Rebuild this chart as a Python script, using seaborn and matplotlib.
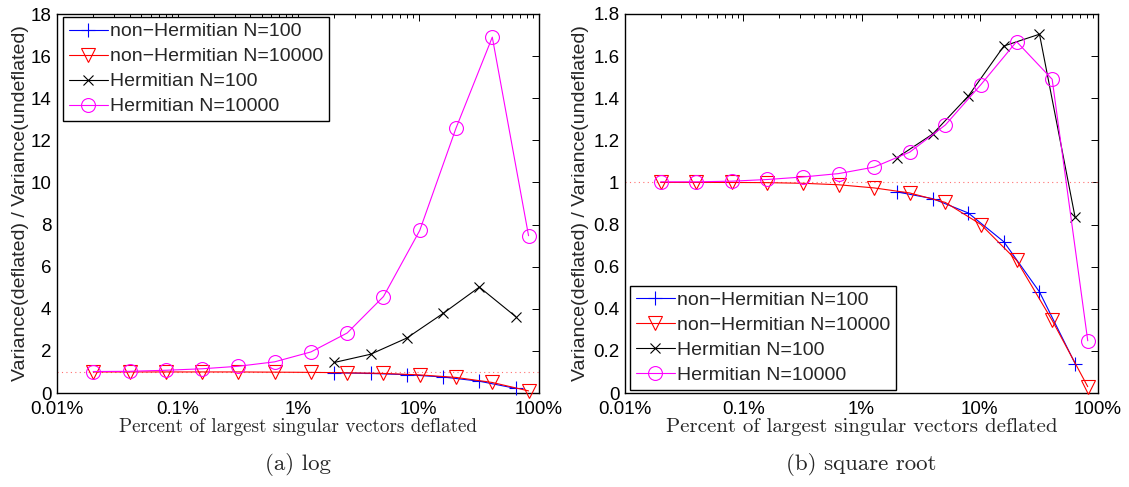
import matplotlib
matplotlib.use("Agg")
import matplotlib.pyplot as plt
from matplotlib.ticker import FixedLocator, FixedFormatter, LogLocator, NullFormatter, FormatStrFormatter
import seaborn as sns

# Percent of singular vectors deflated (k / N * 100)
x_n100 = [2, 4, 8, 16, 32, 64]
x_n10000 = [0.02, 0.04, 0.08, 0.16, 0.32, 0.64, 1.28, 2.56, 5.12, 10.24, 20.48, 40.96, 81.92]

# (a) log
log_nh100 = [0.96, 0.93, 0.87, 0.76, 0.56, 0.22]
log_nh10000 = [1.0, 1.0, 1.0, 1.0, 1.0, 0.99, 0.98, 0.96, 0.93, 0.86, 0.74, 0.50, 0.10]
log_h100 = [1.45, 1.84, 2.61, 3.78, 5.03, 3.63]
log_h10000 = [1.02, 1.03, 1.08, 1.15, 1.27, 1.48, 1.95, 2.85, 4.58, 7.72, 12.58, 16.9, 7.47]

# (b) square root
sqrt_nh100 = [0.955, 0.923, 0.855, 0.718, 0.48, 0.14]
sqrt_nh10000 = [1.0, 1.0, 1.0, 0.999, 0.996, 0.989, 0.974, 0.95, 0.905, 0.80, 0.63, 0.345, 0.03]
sqrt_h100 = [1.118, 1.23, 1.41, 1.648, 1.704, 0.835]
sqrt_h10000 = [1.003, 1.003, 1.006, 1.014, 1.026, 1.042, 1.073, 1.144, 1.273, 1.465, 1.669, 1.49, 0.248]

series_labels = ["non\u2212Hermitian N=100", "non\u2212Hermitian N=10000",
                 "Hermitian N=100", "Hermitian N=10000"]
x_ticks = [0.01, 0.1, 1, 10, 100]
x_tick_labels = ["0.01%", "0.1%", "1%", "10%", "100%"]
captions = ["(a) log", "(b) square root"]

sns.set_style("white")
plt.rcParams["font.family"] = ["Liberation Sans", "DejaVu Sans"]
serif = ["cmr10", "DejaVu Serif"]

styles = [
    dict(color="#0000ff", marker="+", markersize=10),
    dict(color="#ff0000", marker="v", markersize=10),
    dict(color="#000000", marker="x", markersize=7),
    dict(color="#ff00ff", marker="o", markersize=10),
]

fig = plt.figure(figsize=(11.29, 4.87), dpi=100)
ax_l = fig.add_axes([57 / 1129, 94 / 487, 482 / 1129, 379 / 487])
ax_r = fig.add_axes([625 / 1129, 94 / 487, 473 / 1129, 379 / 487])

panels = [
    (ax_l, [log_nh100, log_nh10000, log_h100, log_h10000], (0, 18), list(range(0, 19, 2)), -0.058),
    (ax_r, [sqrt_nh100, sqrt_nh10000, sqrt_h100, sqrt_h10000], (0, 1.8),
     [0, 0.2, 0.4, 0.6, 0.8, 1, 1.2, 1.4, 1.6, 1.8], -0.076),
]

for ax, ys, ylim, yticks, ylab_x in panels:
    ax.axhline(1, color="#ff7070", ls=(0, (1, 3)), lw=0.8, zorder=1)
    for xs, yv, lab, st in zip([x_n100, x_n10000, x_n100, x_n10000], ys, series_labels, styles):
        sns.lineplot(x=xs, y=yv, ax=ax, label=lab, color=st["color"], marker=st["marker"],
                     markersize=st["markersize"], mfc="none", mec=st["color"], mew=0.8,
                     lw=0.8, clip_on=False, zorder=3)
    ax.set_xscale("log")
    ax.set_xlim(0.01, 100)
    ax.set_ylim(*ylim)
    ax.xaxis.set_major_locator(FixedLocator(x_ticks))
    ax.xaxis.set_major_formatter(FixedFormatter(x_tick_labels))
    ax.xaxis.set_minor_locator(LogLocator(base=10, subs=range(2, 10)))
    ax.xaxis.set_minor_formatter(NullFormatter())
    ax.yaxis.set_major_locator(FixedLocator(yticks))
    ax.yaxis.set_major_formatter(FormatStrFormatter("%g"))
    ax.tick_params(which="both", direction="in", top=True, right=True, labelsize=13.5,
                   width=0.7, colors="black")
    ax.tick_params(which="major", length=5)
    ax.tick_params(which="minor", length=3)
    ax.tick_params(axis="x", which="major", pad=6)
    ax.tick_params(axis="y", which="major", pad=4)
    for sp in ax.spines.values():
        sp.set_linewidth(1.0)
        sp.set_color("black")
    ax.set_ylabel("Variance(deflated) / Variance(undeflated)", fontsize=14)
    ax.yaxis.set_label_coords(ylab_x, 0.5)

ax_l.set_xlabel("Percent of largest singular vectors deflated", family=serif,
                fontsize=13.8, labelpad=0)
ax_r.set_xlabel("Percent of largest singular vectors deflated", family=serif,
                fontsize=15, labelpad=0)

leg_kw = dict(fontsize=14, frameon=True, fancybox=False, framealpha=1, edgecolor="black",
              borderpad=0.3, labelspacing=0.38, handlelength=2.0, handletextpad=0.1,
              borderaxespad=0.0)
lg = ax_l.legend(loc="upper left", bbox_to_anchor=(6 / 482, 1 - 3 / 379), **leg_kw)
lg.get_frame().set_linewidth(1.0)
lr = ax_r.legend(loc="lower left", bbox_to_anchor=(5 / 473, 3 / 379), **leg_kw)
lr.get_frame().set_linewidth(1.0)

for ax, cap in zip([ax_l, ax_r], captions):
    pos = ax.get_position()
    fig.text(pos.x0 + pos.width / 2, 1 - 465 / 487, cap, ha="center", va="center",
             family=serif, fontsize=16.5)

fig.savefig("out.png", dpi=100)
